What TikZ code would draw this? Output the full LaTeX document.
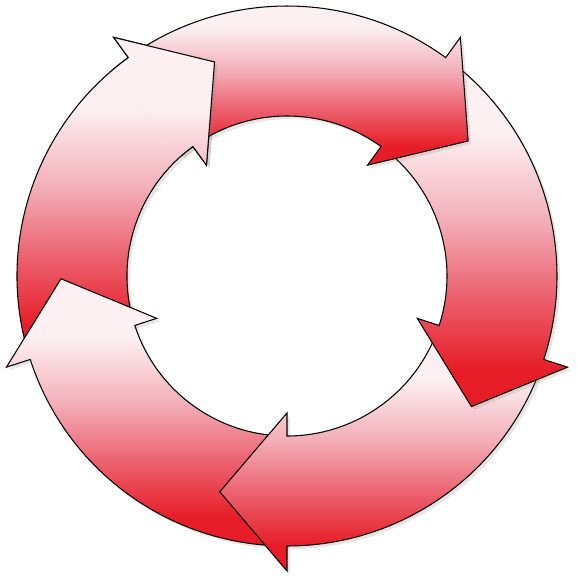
\documentclass[tikz,border=0pt]{standalone}
\usetikzlibrary{shadows}
\definecolor{ringred}{RGB}{230,28,38}
\definecolor{ringmid}{RGB}{236,98,112}
\definecolor{ringpink}{RGB}{243,176,186}
\definecolor{ringlight}{RGB}{253,240,242}
\pgfdeclareverticalshading{ringfill}{100bp}{color(0bp)=(ringred); color(30bp)=(ringred); color(41bp)=(ringmid); color(52bp)=(ringpink); color(64bp)=(ringlight); color(100bp)=(ringlight)}
\begin{document}
\begin{tikzpicture}[cyclearrow/.style={draw=black, line width=0.3pt, shade, shading=ringfill, drop shadow={shadow xshift=0.03cm, shadow yshift=-0.03cm, opacity=0.2}}]
\useasboundingbox (-2.87,-3.06) rectangle (2.91,2.76);

\path[cyclearrow] (198:2.70) arc[start angle=198, end angle=126, radius=2.70] -- (126:2.95) -- (108.7:2.26) -- (126:1.37) -- (126:1.60) arc[start angle=126, end angle=198, radius=1.60] -- cycle;
\path[cyclearrow] (270:2.70) arc[start angle=270, end angle=198, radius=2.70] -- (198:2.95) -- (180.7:2.26) -- (198:1.37) -- (198:1.60) arc[start angle=198, end angle=270, radius=1.60] -- cycle;
\path[cyclearrow] (-18:2.70) arc[start angle=-18, end angle=-90, radius=2.70] -- (-90:2.95) -- (-107.3:2.26) -- (-90:1.37) -- (-90:1.60) arc[start angle=-90, end angle=-18, radius=1.60] -- cycle;
\path[cyclearrow] (54:2.70) arc[start angle=54, end angle=-18, radius=2.70] -- (-18:2.95) -- (-35.3:2.26) -- (-18:1.37) -- (-18:1.60) arc[start angle=-18, end angle=54, radius=1.60] -- cycle;
\path[cyclearrow] (126:2.70) arc[start angle=126, end angle=54, radius=2.70] -- (54:2.95) -- (36.7:2.26) -- (54:1.37) -- (54:1.60) arc[start angle=54, end angle=126, radius=1.60] -- cycle;

\begin{scope}
\clip (0,0) -- (131:3.2) -- (103:3.2) -- cycle;
\path[cyclearrow] (198:2.70) arc[start angle=198, end angle=126, radius=2.70] -- (126:2.95) -- (108.7:2.26) -- (126:1.37) -- (126:1.60) arc[start angle=126, end angle=198, radius=1.60] -- cycle;
\end{scope}
\end{tikzpicture}
\end{document}
